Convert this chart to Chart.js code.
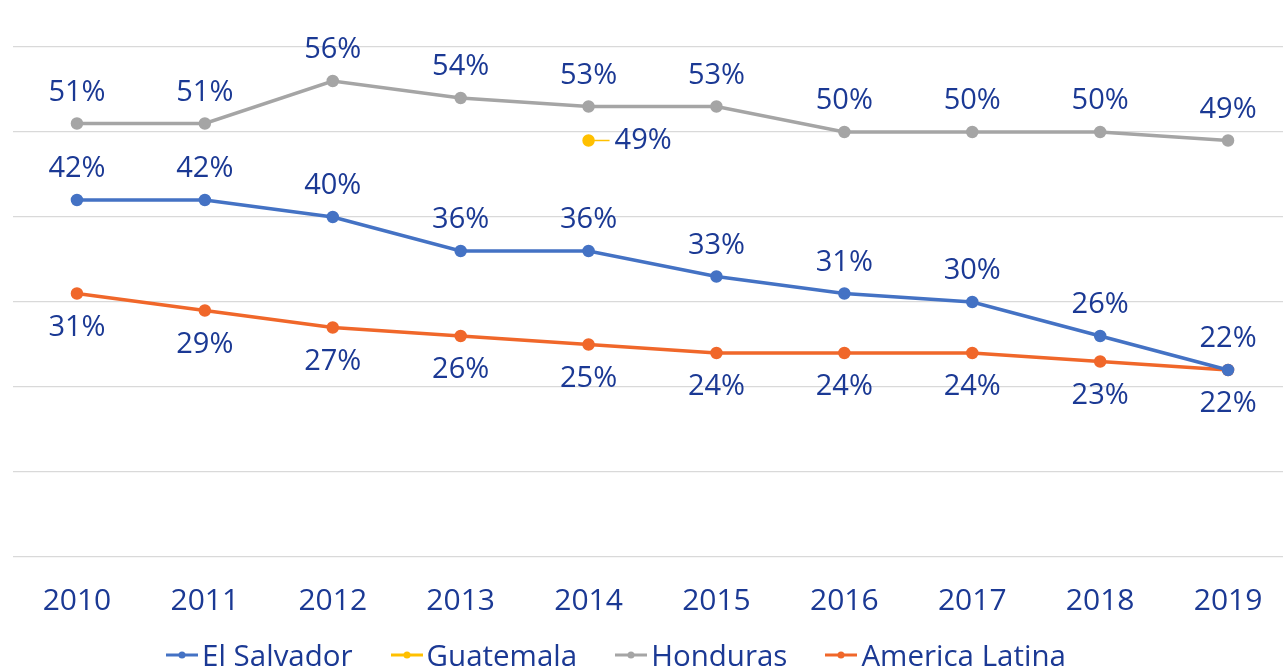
<!DOCTYPE html>
<html>
<head>
<meta charset="utf-8">
<script src="https://cdn.jsdelivr.net/npm/chart.js@4.4.0/dist/chart.umd.min.js"></script>
<style>
  html, body { margin: 0; padding: 0; background: #fff; overflow: hidden; }
  #wrap { position: relative; width: 1283px; height: 666px; overflow: hidden; }
  #chart { position: absolute; left: 0; top: 0; }
  #legend {
    position: absolute; top: 634px; left: 0; width: 1232px;
    display: flex; justify-content: center;
    font-family: 'Open Sans', sans-serif; font-size: 29.5px; color: #1B3994;
    white-space: nowrap;
  }
  .item { display: flex; align-items: center; margin: 0 19px; }
  .item canvas { margin-right: 4px; }
</style>
</head>
<body>
<div id="wrap">
  <canvas id="chart" width="1300" height="644"></canvas>
  <div id="legend"></div>
</div>
<script>
const years = ['2010', '2011', '2012', '2013', '2014', '2015', '2016', '2017', '2018', '2019'];
const elSalvador = [42, 42, 40, 36, 36, 33, 31, 30, 26, 22];
const guatemala = [null, null, null, null, 49, null, null, null, null, null];
const honduras = [51, 51, 56, 54, 53, 53, 50, 50, 50, 49];
const americaLatina = [31, 29, 27, 26, 25, 24, 24, 24, 23, 22];

const labelColor = '#1B3994';
const font = "'Open Sans', sans-serif";

// draws the "42%" style labels next to each point
const pointLabels = {
  id: 'pointLabels',
  afterDatasetsDraw(chart) {
    const ctx = chart.ctx;
    ctx.save();
    ctx.font = '29px ' + font;
    ctx.fillStyle = labelColor;
    ctx.textBaseline = 'middle';
    chart.data.datasets.forEach((ds, i) => {
      const meta = chart.getDatasetMeta(i);
      meta.data.forEach((pt, j) => {
        const v = ds.data[j];
        if (v == null) return;
        const text = v + '%';
        if (ds.labelPos === 'right') {
          ctx.strokeStyle = ds.borderColor;
          ctx.lineWidth = 1.5;
          ctx.beginPath();
          ctx.moveTo(pt.x + 4, pt.y);
          ctx.lineTo(pt.x + 21, pt.y);
          ctx.stroke();
          ctx.textAlign = 'left';
          ctx.fillText(text, pt.x + 26, pt.y);
        } else {
          ctx.textAlign = 'center';
          const dy = ds.labelPos === 'bottom' ? 34 : -31;
          ctx.fillText(text, pt.x, pt.y + dy);
        }
      });
    });
    ctx.restore();
  }
};

function series(label, data, color, labelPos) {
  return {
    label: label,
    data: data,
    borderColor: color,
    backgroundColor: color,
    borderWidth: 3.5,
    pointRadius: 4.5,
    pointHoverRadius: 4.5,
    tension: 0,
    labelPos: labelPos
  };
}

const chart = new Chart(document.getElementById('chart'), {
  type: 'line',
  data: {
    labels: years,
    datasets: [
      series('El Salvador', elSalvador, '#4472C4', 'top'),
      series('Guatemala', guatemala, '#FFC000', 'right'),
      series('Honduras', honduras, '#A5A5A5', 'top'),
      series('America Latina', americaLatina, '#F0672A', 'bottom')
    ]
  },
  options: {
    responsive: false,
    animation: false,
    layout: { padding: { left: 13, right: 7, top: 47, bottom: 7 } },
    plugins: {
      legend: { display: false },
      tooltip: { enabled: false }
    },
    scales: {
      x: {
        offset: true,
        grid: { display: false },
        border: { display: false },
        ticks: { color: labelColor, font: { family: font, size: 30 }, padding: 18 }
      },
      y: {
        min: 0,
        max: 60,
        ticks: { display: false, stepSize: 10 },
        grid: { color: '#D9D9D9', lineWidth: 1.2, drawTicks: false },
        border: { display: false }
      }
    }
  },
  plugins: [pointLabels]
});

// legend below the chart, built from the chart's own legend items
const legend = document.getElementById('legend');
Chart.defaults.plugins.legend.labels.generateLabels(chart).forEach(item => {
  const div = document.createElement('div');
  div.className = 'item';
  const c = document.createElement('canvas');
  c.width = 32; c.height = 12;
  const g = c.getContext('2d');
  g.strokeStyle = item.strokeStyle;
  g.lineWidth = 3;
  g.beginPath(); g.moveTo(0, 6); g.lineTo(32, 6); g.stroke();
  g.fillStyle = item.strokeStyle;
  g.beginPath(); g.arc(16, 6, 3.5, 0, Math.PI * 2); g.fill();
  div.appendChild(c);
  const span = document.createElement('span');
  span.textContent = item.text;
  div.appendChild(span);
  legend.appendChild(div);
});
</script>
</body>
</html>
